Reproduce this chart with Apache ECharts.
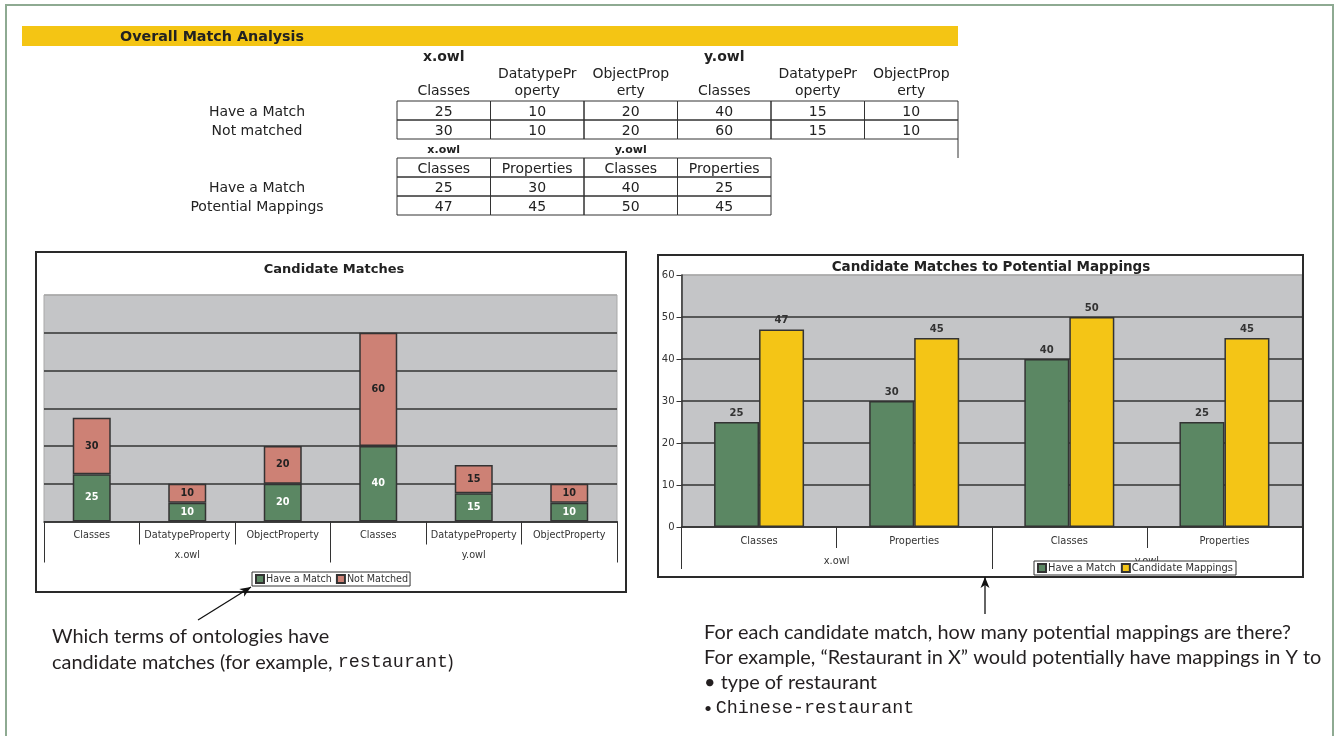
<!DOCTYPE html>
<html><head><meta charset="utf-8">
<script src="https://cdn.jsdelivr.net/npm/echarts@6/dist/echarts.min.js"></script>
<style>html,body{margin:0;padding:0;background:#fff}#c{width:1339px;height:736px}</style>
</head><body><div id="c"></div>
<script>
// ---------- data ----------
const groups = ['x.owl', 'y.owl'];
const cats1 = ['Classes', 'DatatypeProperty', 'ObjectProperty', 'Classes', 'DatatypeProperty', 'ObjectProperty'];
const haveMatch1 = [25, 10, 20, 40, 15, 10];
const notMatched1 = [30, 10, 20, 60, 15, 10];
const cats2 = ['Classes', 'Properties', 'Classes', 'Properties'];
const haveMatch2 = [25, 30, 40, 25];
const mappings2 = [47, 45, 50, 45];
const rowLabels1 = ['Have a Match', 'Not matched'];
const rowLabels2 = ['Have a Match', 'Potential Mappings'];
const names1 = ['Have a Match', 'Not Matched'];
const names2 = ['Have a Match', 'Candidate Mappings'];
const title0 = 'Overall Match Analysis';
const title1 = 'Candidate Matches';
const title2 = 'Candidate Matches to Potential Mappings';
const note1 = ['Which terms of ontologies have', 'candidate matches (for example, ', 'restaurant', ')'];
const note2 = ['For each candidate match, how many potential mappings are there?',
  'For example, \u201CRestaurant in X\u201D would potentially have mappings in Y to',
  '\u2022 type of restaurant', 'Chinese-restaurant'];

// ---------- styles ----------
const SANS = 'DejaVu Sans';
const HUM = 'Lato';
const MONO = 'Liberation Mono';
const GREEN = '#5b8763', SALMON = '#cd8175', YELLOW = '#f4c516', PLOT = '#c4c5c7', DARK = '#333';
const HS = 19.9, MS = 18.4;

const G = [];
function T(x, y, text, o) {
  o = o || {};
  const st = {text: text, fill: o.color || '#222', fontSize: o.size || 14, fontFamily: o.family || SANS,
    fontWeight: o.weight || 'normal', textAlign: o.align || 'center', textVerticalAlign: 'middle',
    align: o.align || 'center', verticalAlign: 'middle'};
  if (o.rich) st.rich = o.rich;
  G.push({type: 'text', x: x, y: y + (o.family ? 0 : 1), z: 10, style: st});
}
function R(x, y, w, h, st, z) { G.push({type: 'rect', z: z || 1, shape: {x: x, y: y, width: w, height: h}, style: st}); }
function L(x1, y1, x2, y2, c, w) { G.push({type: 'line', z: 2, shape: {x1: x1, y1: y1, x2: x2, y2: y2}, style: {stroke: c, lineWidth: w}}); }
function arrow(x1, y1, x2, y2) {
  L(x1, y1, x2, y2, '#111', 1.3);
  const dx = x2 - x1, dy = y2 - y1, len = Math.hypot(dx, dy), ux = dx / len, uy = dy / len;
  const bx = x2 - ux * 11, by = y2 - uy * 11, px = -uy * 4.5, py = ux * 4.5;
  G.push({type: 'polygon', z: 3, shape: {points: [[x2, y2], [bx + px, by + py], [x2 - ux * 8, y2 - uy * 8], [bx - px, by - py]]}, style: {fill: '#111'}});
}

// page frame & header bar
R(6, 5, 1327, 745, {fill: 'none', stroke: '#8eaa92', lineWidth: 2});
R(22, 26, 936, 20, {fill: '#f4c514'});
T(120, 36, title0, {size: 14.3, weight: 'bold', align: 'left'});

// table 1
const colX = [397, 490.5, 584, 677.5, 771, 864.5, 958];
const cx = i => (colX[i] + colX[i + 1]) / 2;
T(cx(0), 56, groups[0], {size: 14, weight: 'bold'});
T(cx(3), 56, groups[1], {size: 14, weight: 'bold'});
cats1.forEach((c, i) => {
  const a = c.length > 10 ? [c.slice(0, 10), c.slice(10)] : ['', c];
  if (a[0]) T(cx(i), 73, a[0], {size: 14});
  T(cx(i), 90.5, a[1], {size: 14});
});
[haveMatch1, notMatched1].forEach((row, r) => {
  const y = 101 + r * 19;
  T(257, y + 10, rowLabels1[r], {size: 14});
  row.forEach((v, i) => {
    R(colX[i], y, colX[i + 1] - colX[i], 19, {fill: 'none', stroke: DARK, lineWidth: 1});
    T(cx(i), y + 10, String(v), {size: 14});
  });
});
L(958, 139, 958, 158, DARK, 1);

// table 2
T(cx(0), 149, groups[0], {size: 11, weight: 'bold'});
T(cx(2), 149, groups[1], {size: 11, weight: 'bold'});
cats2.forEach((c, i) => {
  R(colX[i], 158, colX[i + 1] - colX[i], 19, {fill: 'none', stroke: DARK, lineWidth: 1});
  T(cx(i), 168, c, {size: 14});
});
[haveMatch2, mappings2].forEach((row, r) => {
  const y = 177 + r * 19;
  T(257, y + 10, rowLabels2[r], {size: 14});
  row.forEach((v, i) => {
    R(colX[i], y, colX[i + 1] - colX[i], 19, {fill: 'none', stroke: DARK, lineWidth: 1});
    T(cx(i), y + 10, String(v), {size: 14});
  });
});

// chart boxes and titles
R(36, 252, 590, 340, {fill: 'none', stroke: '#2a2a2a', lineWidth: 2});
R(658, 255, 645, 322, {fill: 'none', stroke: '#2a2a2a', lineWidth: 2});
T(334, 269, title1, {size: 13, weight: 'bold'});
T(991, 266.5, title2, {size: 13.5, weight: 'bold'});

// annotations
arrow(198, 620, 251, 587);
arrow(985, 614, 985, 577);
const TC = '#231f20';
T(52, 636.5, note1[0], {family: HUM, size: HS, align: 'left', color: TC});
T(52, 662.5, '{a|' + note1[1] + '}{m|' + note1[2] + '}{a|' + note1[3] + '}', {family: HUM, size: HS, align: 'left', color: TC,
  rich: {a: {fontFamily: HUM, fontSize: HS, fill: TC}, m: {fontFamily: MONO, fontSize: MS, fill: TC}}});
T(704, 632.5, note2[0], {family: HUM, size: HS, align: 'left', color: TC});
T(704, 657.5, note2[1], {family: HUM, size: HS, align: 'left', color: TC});
T(704, 682.5, note2[2], {family: HUM, size: HS, align: 'left', color: TC});
T(704, 708.5, '{b|\u2022 }{m|' + note2[3] + '}', {family: HUM, size: HS, align: 'left', color: TC,
  rich: {b: {fontFamily: HUM, fontSize: 14, fill: TC}, m: {fontFamily: MONO, fontSize: MS, fill: TC}}});

// ---------- chart ----------
const axLabel = (size, margin) => ({interval: 0, margin: margin, fontSize: size, color: DARK, fontFamily: SANS});
const option = {
  animation: false,
  textStyle: {fontFamily: SANS},
  graphic: {elements: G},
  legend: [
    {data: names1, left: 252, top: 572, orient: 'horizontal', selectedMode: false, icon: 'rect',
      itemWidth: 8, itemHeight: 8, itemGap: 4, padding: [2, 2, 2, 3], borderColor: DARK, borderWidth: 1,
      backgroundColor: '#fff', textStyle: {fontSize: 9.6, color: DARK, fontFamily: SANS, padding: [0, 0, 0, -3]}},
    {data: names2, left: 1034, top: 561, orient: 'horizontal', selectedMode: false, icon: 'rect',
      itemWidth: 8, itemHeight: 8, itemGap: 5, padding: [2, 3, 2, 3], borderColor: DARK, borderWidth: 1,
      backgroundColor: '#fff', textStyle: {fontSize: 9.9, color: DARK, fontFamily: SANS, padding: [0, 0, 0, -3]}}
  ],
  grid: [
    {left: 44, top: 295, width: 573, height: 226.5, show: true, backgroundColor: PLOT, borderColor: '#a9a9a9', borderWidth: 1, containLabel: false},
    {left: 681.5, top: 275, width: 620.5, height: 252, show: true, backgroundColor: PLOT, borderColor: '#a9a9a9', borderWidth: 1, containLabel: false}
  ],
  xAxis: [
    {type: 'category', gridIndex: 0, position: 'bottom', data: cats1,
      axisLine: {onZero: false, lineStyle: {color: DARK, width: 1.5}},
      axisTick: {show: true, length: 23, interval: 0, lineStyle: {color: DARK}},
      axisLabel: axLabel(9.7, 9), splitLine: {show: false}},
    {type: 'category', gridIndex: 0, position: 'bottom', data: groups,
      axisLine: {show: false, onZero: false},
      axisTick: {show: true, length: 41, interval: 0, lineStyle: {color: DARK}},
      axisLabel: axLabel(9.7, 29), splitLine: {show: false}},
    {type: 'category', gridIndex: 1, position: 'bottom', data: cats2,
      axisLine: {onZero: false, lineStyle: {color: DARK, width: 1.5}},
      axisTick: {show: true, length: 21, interval: 0, lineStyle: {color: DARK}},
      axisLabel: axLabel(9.9, 9), splitLine: {show: false}},
    {type: 'category', gridIndex: 1, position: 'bottom', data: groups,
      axisLine: {show: false, onZero: false},
      axisTick: {show: true, length: 42, interval: 0, lineStyle: {color: DARK}},
      axisLabel: axLabel(9.9, 29), splitLine: {show: false}}
  ],
  yAxis: [
    {type: 'value', gridIndex: 0, min: 0, max: 120, interval: 20,
      axisLabel: {show: false}, axisLine: {show: false}, axisTick: {show: false},
      splitLine: {lineStyle: {color: ['#333', '#333', '#333', '#333', '#333', '#333', '#a9a9a9'], width: 1.5}}},
    {type: 'value', gridIndex: 1, min: 0, max: 60, interval: 10,
      axisLine: {show: true, lineStyle: {color: DARK, width: 1.5}},
      axisTick: {show: true, length: 5, lineStyle: {color: DARK}},
      axisLabel: {fontSize: 10, color: DARK, margin: 7, fontFamily: SANS},
      splitLine: {lineStyle: {color: ['#333', '#333', '#333', '#333', '#333', '#333', '#a9a9a9'], width: 1.5}}}
  ],
  series: [
    {name: names1[0], type: 'bar', xAxisIndex: 0, yAxisIndex: 0, stack: 'cm', data: haveMatch1, barWidth: 38,
      itemStyle: {color: GREEN, borderColor: DARK, borderWidth: 1.5},
      label: {show: true, position: 'inside', color: '#fff', fontWeight: 'bold', fontSize: 9.7, fontFamily: SANS}},
    {name: names1[1], type: 'bar', xAxisIndex: 0, yAxisIndex: 0, stack: 'cm', data: notMatched1, barWidth: 38,
      itemStyle: {color: SALMON, borderColor: DARK, borderWidth: 1.5},
      label: {show: true, position: 'inside', color: '#222', fontWeight: 'bold', fontSize: 9.7, fontFamily: SANS}},
    {name: names2[0], type: 'bar', xAxisIndex: 2, yAxisIndex: 1, data: haveMatch2, barWidth: 45, barGap: '0%',
      itemStyle: {color: GREEN, borderColor: DARK, borderWidth: 1.5},
      label: {show: true, position: 'top', distance: 4, color: DARK, fontWeight: 'bold', fontSize: 10, fontFamily: SANS}},
    {name: names2[1], type: 'bar', xAxisIndex: 2, yAxisIndex: 1, data: mappings2, barWidth: 45, barGap: '0%',
      itemStyle: {color: YELLOW, borderColor: DARK, borderWidth: 1.5},
      label: {show: true, position: 'top', distance: 4, color: DARK, fontWeight: 'bold', fontSize: 10, fontFamily: SANS}}
  ]
};
const chart = echarts.init(document.getElementById('c'), null, {renderer: 'canvas'});
chart.setOption(option);
</script>
</body></html>
